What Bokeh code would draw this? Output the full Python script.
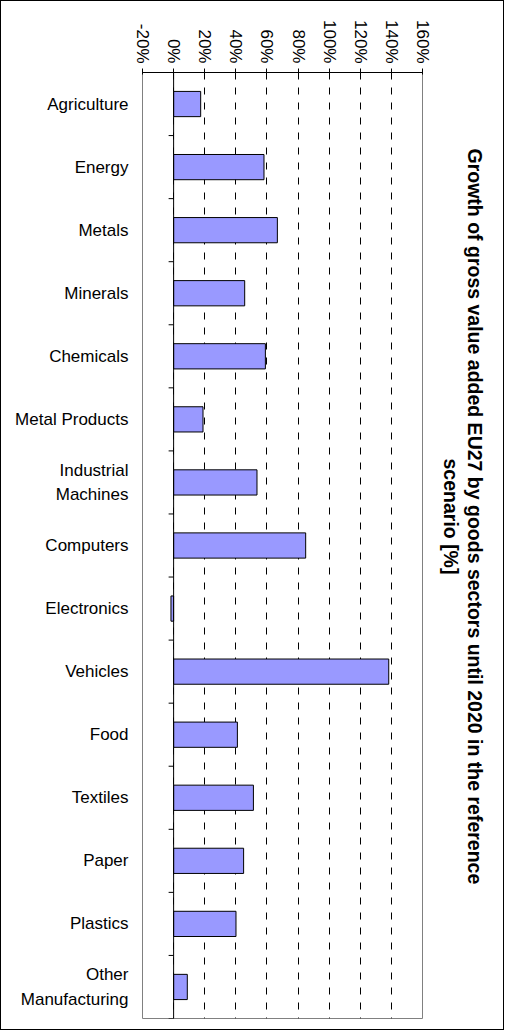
import math
from bokeh.plotting import figure
from bokeh.models import (Range1d, FixedTicker, PrintfTickFormatter,
                          CustomJSTickFormatter, Span, Title)
from bokeh.embed import file_html
from bokeh.resources import INLINE

# ---- data ----
categories = ["Agriculture", "Energy", "Metals", "Minerals", "Chemicals",
              "Metal Products", "Industrial\nMachines", "Computers",
              "Electronics", "Vehicles", "Food", "Textiles", "Paper",
              "Plastics", "Other\nManufacturing"]
growth = [17.4, 58.1, 66.7, 45.7, 59.0, 18.9, 53.6, 84.9, -1.7, 138.3,
          41.0, 51.3, 45.0, 40.1, 8.8]
x_ticks = [-20, 0, 20, 40, 60, 80, 100, 120, 140, 160]
title_line1 = "Growth of gross value added EU27 by goods sectors until 2020 in the reference"
title_line2 = "scenario [%]"

FONT = "Liberation Sans"
n = len(categories)
pos = [i + 0.5 for i in range(n)]
bounds = list(range(1, n + 1))

p = figure(width=504, height=1030,
           x_range=Range1d(x_ticks[0], x_ticks[-1]),
           y_range=Range1d(n, 0),
           x_axis_location="above",
           output_backend="svg", toolbar_location=None)
p.min_border_left = 141
p.min_border_right = 83
p.min_border_top = 71
p.min_border_bottom = 13
p.background_fill_color = "white"
p.border_fill_color = "white"
p.outline_line_color = "#808080"
p.outline_line_width = 1
p.styles = {"border": "1px solid black"}

# grid
p.xgrid.ticker = FixedTicker(ticks=x_ticks[:-1])
p.xgrid.grid_line_color = "black"
p.xgrid.grid_line_dash = "7 8"
p.xgrid.grid_line_width = 1
p.ygrid.visible = False

# bars
p.hbar(y=pos, left=0, right=growth, height=0.4,
       fill_color="#9999FF", line_color="black", line_width=1)

# category axis line at zero with boundary ticks
p.add_layout(Span(location=0, dimension="height", line_color="black", line_width=1))
p.ray(x=[0] * n, y=bounds, length=5, length_units="screen", angle=math.pi,
      line_color="black", line_width=1)

# top value axis
xa = p.xaxis[0]
xa.ticker = FixedTicker(ticks=x_ticks)
xa.formatter = PrintfTickFormatter(format="%d%%")
xa.major_label_orientation = -math.pi / 2
xa.major_label_text_font = FONT
xa.major_label_text_font_size = "17px"
xa.major_label_text_color = "black"
xa.major_tick_out = 4
xa.major_tick_in = 2
xa.major_tick_line_color = "black"
xa.minor_tick_line_color = None
xa.axis_line_color = "black"
xa.major_label_standoff = 5

# left category labels
ya = p.yaxis[0]
ya.ticker = FixedTicker(ticks=pos)
ya.formatter = CustomJSTickFormatter(args=dict(labels=categories),
                                     code="return labels[Math.floor(tick)];")
ya.axis_line_color = None
ya.major_tick_line_color = None
ya.minor_tick_line_color = None
ya.major_label_standoff = 8
ya.major_label_text_font = FONT
ya.major_label_text_font_size = "17px"
ya.major_label_text_color = "black"
ya.major_label_text_line_height = 1.27

# titles on the right (nearest first); offsets place them centred on the chart
for txt, so, off in ((title_line2, 34, 386), (title_line1, -34, 76)):
    t = Title(text=txt, align="left", text_font=FONT, text_font_size="19.5px",
              text_font_style="bold", text_color="black", standoff=so, offset=off)
    p.add_layout(t, "right")

open("out.html", "w").write(file_html(p, INLINE))
